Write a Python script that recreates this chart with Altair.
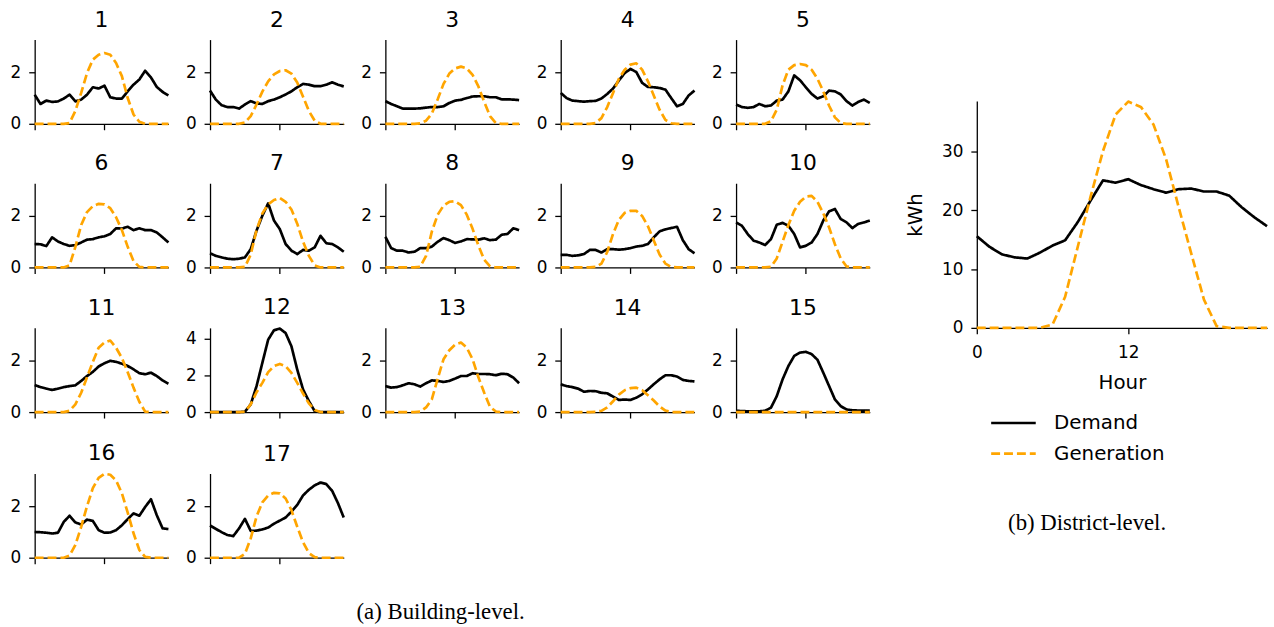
import altair as alt
import pandas as pd

hours = list(range(24))

# ---- building-level profiles (kWh) ----
demand_1 = [1.13, 0.77, 0.90, 0.85, 0.87, 0.98, 1.13, 0.87, 0.94, 1.13, 1.42, 1.37, 1.48, 1.03, 0.98, 0.98, 1.26, 1.52, 1.72, 2.06, 1.80, 1.43, 1.24, 1.10]
generation_1 = [0, 0, 0, 0, 0, 0, 0.03, 0.50, 1.20, 1.97, 2.49, 2.68, 2.75, 2.68, 2.36, 1.85, 1.00, 0.36, 0.08, 0, 0, 0, 0, 0]
demand_2 = [1.29, 0.94, 0.72, 0.65, 0.65, 0.59, 0.75, 0.88, 0.79, 0.77, 0.88, 0.94, 1.03, 1.14, 1.26, 1.42, 1.55, 1.52, 1.46, 1.46, 1.52, 1.61, 1.52, 1.45]
generation_2 = [0, 0, 0, 0, 0, 0, 0.05, 0.30, 0.75, 1.25, 1.65, 1.92, 2.05, 2.08, 1.95, 1.60, 1.05, 0.50, 0.12, 0, 0, 0, 0, 0]
demand_3 = [0.88, 0.77, 0.68, 0.59, 0.59, 0.59, 0.60, 0.63, 0.65, 0.65, 0.68, 0.81, 0.90, 0.93, 1.00, 1.06, 1.07, 1.07, 1.03, 1.03, 0.95, 0.95, 0.94, 0.92]
generation_3 = [0, 0, 0, 0, 0, 0, 0.02, 0.12, 0.40, 0.95, 1.55, 1.95, 2.15, 2.22, 2.15, 1.90, 1.45, 0.85, 0.30, 0.03, 0, 0, 0, 0]
demand_4 = [1.20, 1.00, 0.90, 0.88, 0.86, 0.88, 0.89, 0.98, 1.16, 1.37, 1.68, 1.97, 2.13, 2.01, 1.59, 1.43, 1.42, 1.39, 1.33, 1.00, 0.68, 0.77, 1.10, 1.29]
generation_4 = [0, 0, 0, 0, 0, 0, 0.03, 0.22, 0.65, 1.20, 1.75, 2.10, 2.30, 2.35, 2.10, 1.65, 1.10, 0.55, 0.15, 0.02, 0, 0, 0, 0]
demand_5 = [0.75, 0.65, 0.62, 0.65, 0.77, 0.68, 0.71, 0.90, 0.94, 1.26, 1.88, 1.69, 1.42, 1.16, 0.98, 1.07, 1.29, 1.26, 1.14, 0.88, 0.71, 0.85, 0.94, 0.81]
generation_5 = [0, 0, 0, 0, 0, 0, 0.10, 0.55, 1.50, 2.10, 2.28, 2.32, 2.28, 2.10, 1.75, 1.26, 0.70, 0.25, 0.03, 0, 0, 0, 0, 0]
demand_6 = [0.91, 0.90, 0.83, 1.17, 1.01, 0.91, 0.84, 0.87, 0.97, 1.08, 1.10, 1.17, 1.21, 1.30, 1.52, 1.51, 1.58, 1.45, 1.52, 1.45, 1.45, 1.36, 1.17, 0.97]
generation_6 = [0, 0, 0, 0, 0, 0, 0.08, 0.80, 1.65, 2.15, 2.38, 2.47, 2.45, 2.30, 1.95, 1.45, 0.80, 0.25, 0.02, 0, 0, 0, 0, 0]
demand_7 = [0.55, 0.45, 0.39, 0.34, 0.32, 0.34, 0.39, 0.71, 1.43, 2.01, 2.49, 1.82, 1.49, 0.91, 0.65, 0.52, 0.68, 0.65, 0.78, 1.23, 0.94, 0.91, 0.78, 0.61]
generation_7 = [0, 0, 0, 0, 0, 0, 0.02, 0.50, 1.45, 2.10, 2.45, 2.62, 2.70, 2.55, 2.25, 1.70, 1.00, 0.45, 0.08, 0, 0, 0, 0, 0]
demand_8 = [1.19, 0.75, 0.65, 0.65, 0.58, 0.61, 0.75, 0.75, 0.81, 1.00, 1.14, 1.06, 0.95, 1.01, 1.10, 1.09, 1.08, 1.13, 1.06, 1.08, 1.27, 1.30, 1.52, 1.45]
generation_8 = [0, 0, 0, 0, 0, 0, 0.03, 0.45, 1.40, 2.05, 2.40, 2.55, 2.57, 2.42, 2.05, 1.50, 0.85, 0.30, 0.04, 0, 0, 0, 0, 0]
demand_9 = [0.49, 0.49, 0.45, 0.47, 0.52, 0.68, 0.68, 0.58, 0.71, 0.71, 0.69, 0.71, 0.75, 0.81, 0.84, 0.91, 1.17, 1.40, 1.48, 1.53, 1.58, 1.06, 0.71, 0.55]
generation_9 = [0, 0, 0, 0, 0, 0, 0.02, 0.15, 0.60, 1.30, 1.85, 2.12, 2.20, 2.20, 2.00, 1.60, 1.05, 0.50, 0.15, 0.02, 0, 0, 0, 0]
demand_10 = [1.75, 1.62, 1.30, 1.04, 0.97, 0.87, 1.10, 1.66, 1.73, 1.62, 1.30, 0.78, 0.84, 0.97, 1.30, 1.82, 2.18, 2.27, 1.88, 1.75, 1.53, 1.69, 1.75, 1.82]
generation_10 = [0, 0, 0, 0, 0, 0, 0.03, 0.35, 1.00, 1.65, 2.20, 2.55, 2.75, 2.78, 2.55, 2.10, 1.55, 0.90, 0.35, 0.04, 0, 0, 0, 0]
demand_11 = [1.05, 0.97, 0.91, 0.86, 0.91, 0.97, 1.01, 1.04, 1.21, 1.40, 1.56, 1.77, 1.90, 1.99, 1.95, 1.88, 1.79, 1.66, 1.51, 1.47, 1.53, 1.40, 1.23, 1.10]
generation_11 = [0, 0, 0, 0, 0, 0, 0.05, 0.30, 0.75, 1.35, 1.95, 2.50, 2.70, 2.78, 2.50, 2.10, 1.55, 0.95, 0.40, 0.02, 0, 0, 0, 0]
demand_12 = [0, 0, 0, 0, 0, 0, 0.02, 0.42, 1.41, 2.68, 3.94, 4.45, 4.54, 4.30, 3.58, 2.31, 1.23, 0.60, 0.05, 0, 0, 0, 0, 0]
generation_12 = [0, 0, 0, 0, 0, 0, 0.02, 0.42, 1.08, 1.59, 2.17, 2.50, 2.62, 2.50, 2.13, 1.59, 1.01, 0.47, 0.11, 0, 0, 0, 0, 0]
demand_13 = [1.01, 0.95, 0.97, 1.04, 1.12, 1.08, 0.99, 1.12, 1.23, 1.21, 1.17, 1.21, 1.30, 1.40, 1.40, 1.51, 1.48, 1.48, 1.47, 1.43, 1.49, 1.47, 1.34, 1.12]
generation_13 = [0, 0, 0, 0, 0, 0, 0.02, 0.18, 0.50, 1.30, 2.05, 2.40, 2.62, 2.70, 2.50, 2.05, 1.35, 0.75, 0.20, 0.02, 0, 0, 0, 0]
demand_14 = [1.08, 1.01, 0.97, 0.91, 0.79, 0.82, 0.81, 0.75, 0.73, 0.60, 0.47, 0.49, 0.47, 0.56, 0.69, 0.88, 1.08, 1.27, 1.43, 1.43, 1.38, 1.25, 1.21, 1.19]
generation_14 = [0, 0, 0, 0, 0, 0, 0.01, 0.05, 0.18, 0.42, 0.68, 0.85, 0.93, 0.95, 0.85, 0.65, 0.45, 0.22, 0.06, 0, 0, 0, 0, 0]
demand_15 = [0.05, 0.04, 0.03, 0.03, 0.03, 0.05, 0.17, 0.62, 1.27, 1.79, 2.18, 2.31, 2.34, 2.25, 2.03, 1.53, 1.01, 0.49, 0.23, 0.10, 0.07, 0.06, 0.06, 0.06]
generation_15 = [0, 0, 0, 0, 0, 0, 0, 0, 0, 0, 0, 0, 0, 0, 0, 0, 0, 0, 0, 0, 0, 0, 0, 0]
demand_16 = [1.00, 0.99, 0.97, 0.94, 0.97, 1.39, 1.63, 1.37, 1.29, 1.48, 1.43, 1.07, 0.97, 0.98, 1.07, 1.26, 1.50, 1.72, 1.63, 1.97, 2.27, 1.65, 1.14, 1.11]
generation_16 = [0, 0, 0, 0, 0, 0, 0.08, 0.50, 1.20, 2.00, 2.70, 3.10, 3.26, 3.22, 3.00, 2.50, 1.75, 0.95, 0.30, 0.03, 0, 0, 0, 0]
demand_17 = [1.25, 1.12, 0.99, 0.88, 0.84, 1.14, 1.51, 1.04, 1.05, 1.10, 1.17, 1.32, 1.44, 1.56, 1.79, 2.05, 2.42, 2.64, 2.81, 2.92, 2.86, 2.60, 2.12, 1.56]
generation_17 = [0, 0, 0, 0, 0, 0, 0.15, 0.75, 1.60, 2.15, 2.42, 2.52, 2.50, 2.30, 1.85, 1.20, 0.60, 0.18, 0.02, 0, 0, 0, 0, 0]

# ---- district-level profile (kWh) ----
district_demand = [15.6, 13.8, 12.5, 12.0, 11.8, 12.8, 14.0, 14.9, 18.0, 21.6, 25.1, 24.7, 25.3, 24.3, 23.6, 23.0, 23.6, 23.7, 23.2, 23.2, 22.5, 20.5, 18.8, 17.3]
district_generation = [0, 0, 0, 0, 0, 0, 0.56, 5.3, 13.8, 22.2, 30.1, 36.3, 38.5, 37.6, 34.6, 28.7, 20.5, 12.6, 4.8, 0.3, 0, 0, 0, 0]

building_ids = list(range(1, 18))
building_demand = [demand_1, demand_2, demand_3, demand_4, demand_5, demand_6, demand_7, demand_8, demand_9,
                   demand_10, demand_11, demand_12, demand_13, demand_14, demand_15, demand_16, demand_17]
building_generation = [generation_1, generation_2, generation_3, generation_4, generation_5, generation_6,
                       generation_7, generation_8, generation_9, generation_10, generation_11, generation_12,
                       generation_13, generation_14, generation_15, generation_16, generation_17]

series_names = ["Demand", "Generation"]
series_colors = ["#000000", "#ffa500"]
series_dashes = [[1, 0], [9, 4]]

small_ymax = 3.27
tall_ymax = 4.58          # building 12
district_ymax = 38.6

FONT = "DejaVu Sans"
SERIF = "Liberation Serif"
LINE_W = 2.7


def frame(demand, generation):
    return pd.DataFrame({
        "hour": hours + hours,
        "value": list(demand) + list(generation),
        "series": [series_names[0]] * len(hours) + [series_names[1]] * len(hours),
    })


color_scale = alt.Scale(domain=series_names, range=series_colors)
dash_scale = alt.Scale(domain=series_names, range=series_dashes)


def small_panel(num, demand, generation):
    ymax = tall_ymax if num == 12 else small_ymax
    yticks = [0, 2, 4] if num == 12 else [0, 2]
    return alt.Chart(frame(demand, generation)).mark_line(strokeWidth=LINE_W, strokeJoin="round").encode(
        x=alt.X("hour:Q", scale=alt.Scale(domain=[0, 23], nice=False, zero=False),
                axis=alt.Axis(values=[0, 12], labels=False, title=None, grid=False)),
        y=alt.Y("value:Q", scale=alt.Scale(domain=[0, ymax], nice=False),
                axis=alt.Axis(values=yticks, title=None, grid=False)),
        color=alt.Color("series:N", scale=color_scale, legend=None),
        strokeDash=alt.StrokeDash("series:N", scale=dash_scale, legend=None),
    ).properties(
        width=135, height=85,
        title=alt.TitleParams(str(num), fontSize=22, font=FONT, fontWeight="normal",
                              color="black", offset=8, baseline="top"),
    )


panels = [small_panel(n, d, g) for n, d, g in zip(building_ids, building_demand, building_generation)]
rows = []
for start in range(0, len(panels), 5):
    rows.append(alt.hconcat(*panels[start:start + 5], spacing=15)
                .resolve_scale(color="independent", strokeDash="independent"))

left = alt.vconcat(*rows, spacing=21).resolve_scale(
    color="independent", strokeDash="independent"
).properties(
    title=alt.TitleParams("(a) Building-level.", orient="bottom", font=SERIF, fontSize=23,
                          fontWeight="normal", color="black", offset=36, baseline="top", anchor="middle")
)

legend_cfg = dict(orient="none", legendX=13, legendY=313, title=None, symbolType="stroke",
                  symbolSize=2025, symbolStrokeWidth=LINE_W, clipHeight=24, rowPadding=7,
                  labelFontSize=20, labelFont=FONT, labelColor="black", labelOffset=17,
                  padding=0, symbolOffset=0)

district = alt.Chart(frame(district_demand, district_generation)).mark_line(
    strokeWidth=LINE_W, strokeJoin="round"
).encode(
    x=alt.X("hour:Q", scale=alt.Scale(domain=[0, 23], nice=False, zero=False),
            axis=alt.Axis(values=[0, 12], title="Hour", labelFlush=False, labelPadding=11,
                          titlePadding=12, grid=False)),
    y=alt.Y("value:Q", scale=alt.Scale(domain=[0, district_ymax], nice=False),
            axis=alt.Axis(values=[0, 10, 20, 30], title="kWh", titlePadding=16, grid=False)),
    color=alt.Color("series:N", scale=color_scale, legend=alt.Legend(**legend_cfg)),
    strokeDash=alt.StrokeDash("series:N", scale=dash_scale, legend=alt.Legend(**legend_cfg)),
).properties(width=293, height=229)

spacer = alt.Chart(pd.DataFrame({"v": [0]})).mark_point(opacity=0).encode(
    x=alt.value(0), y=alt.value(0)
).properties(width=1, height=41)

right = alt.vconcat(spacer, district, spacing=20).resolve_scale(
    color="independent", strokeDash="independent"
).properties(
    title=alt.TitleParams("(b) District-level.", orient="bottom", font=SERIF, fontSize=23,
                          fontWeight="normal", color="black", offset=47, baseline="top", anchor="middle")
)

chart = alt.hconcat(left, right, spacing=34).resolve_scale(
    color="independent", strokeDash="independent"
).properties(
    padding={"left": 10, "top": 6, "right": 5, "bottom": 3},
    background="white",
).configure_view(stroke=None).configure_axis(
    domainColor="black", domainWidth=1.3, tickColor="black", tickWidth=1.3, tickSize=6,
    labelFont=FONT, labelFontSize=17, labelColor="black", labelPadding=8,
    titleFont=FONT, titleFontSize=20, titleFontWeight="normal", titleColor="black",
)

chart.save("out.html", embed_options={"renderer": "svg", "actions": False})
